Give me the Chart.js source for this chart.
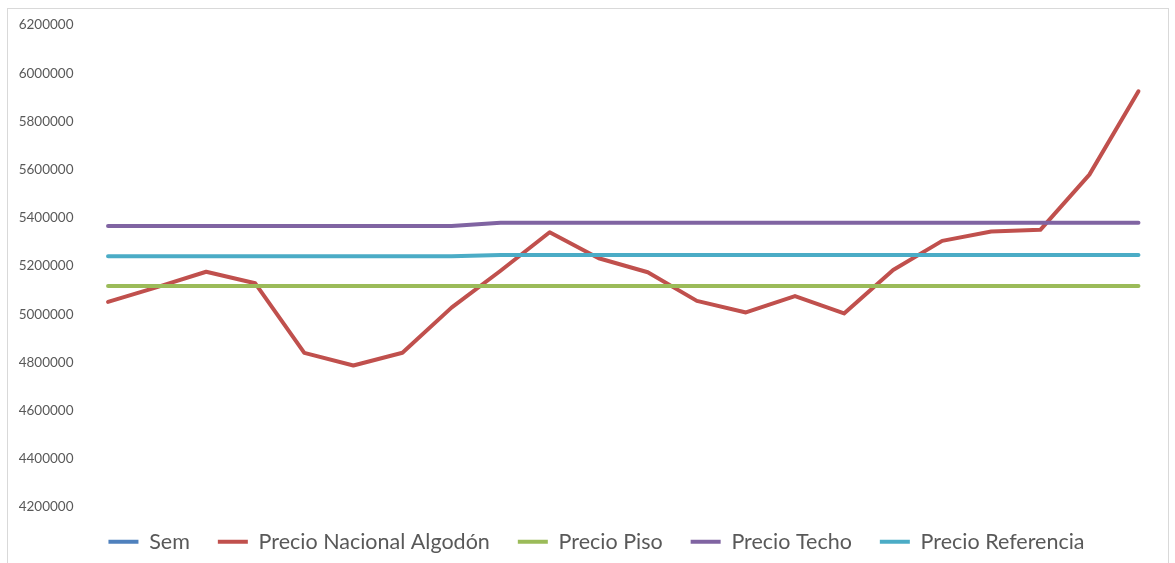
<!DOCTYPE html>
<html>
<head>
<meta charset="utf-8">
<script src="https://cdn.jsdelivr.net/npm/chart.js@4.4.1/dist/chart.umd.min.js"></script>
<style>
  html, body { margin: 0; padding: 0; background: #fff; overflow: hidden; }
  #frame { position: absolute; left: 7px; top: 8px; width: 1160px; height: 570px; border: 1px solid #d9d9d9; }
  #wrap { position: absolute; left: 8px; top: 9px; width: 1159px; height: 554px; }
</style>
</head>
<body>
<div id="frame"></div>
<div id="wrap"><canvas id="chart"></canvas></div>
<script>
// Weeks (category axis, labels hidden in the original)
const semanas = ['1', '2', '3', '4', '5', '6', '7', '8', '9', '10', '11',
                 '12', '13', '14', '15', '16', '17', '18', '19', '20', '21', '22'];

// Series
const sem = [];
const precioNacional = [5051000, 5112000, 5176000, 5128000, 4839000, 4787000, 4840000, 5027000,
                        5180000, 5340000, 5232000, 5174000, 5055000, 5007000, 5075000, 5003000,
                        5183000, 5304000, 5343000, 5350000, 5579000, 5925000];
const precioPiso = [5117000, 5117000, 5117000, 5117000, 5117000, 5117000, 5117000, 5117000,
                    5117000, 5117000, 5117000, 5117000, 5117000, 5117000, 5117000, 5117000,
                    5117000, 5117000, 5117000, 5117000, 5117000, 5117000];
const precioTecho = [5366000, 5366000, 5366000, 5366000, 5366000, 5366000, 5366000, 5366000,
                     5379000, 5379000, 5379000, 5379000, 5379000, 5379000, 5379000, 5379000,
                     5379000, 5379000, 5379000, 5379000, 5379000, 5379000];
const precioReferencia = [5240000, 5240000, 5240000, 5240000, 5240000, 5240000, 5240000, 5240000,
                          5245000, 5245000, 5245000, 5245000, 5245000, 5245000, 5245000, 5245000,
                          5245000, 5245000, 5245000, 5245000, 5245000, 5245000];

// Y axis tick labels
const yTicks = [4200000, 4400000, 4600000, 4800000, 5000000, 5200000,
                5400000, 5600000, 5800000, 6000000, 6200000];

const LEGEND_PAD = 28;

function serie(label, data, color, order) {
    return {
        label: label,
        data: data,
        borderColor: color,
        backgroundColor: color,
        borderWidth: 4,
        pointRadius: 0,
        tension: 0,
        borderCapStyle: 'round',
        borderJoinStyle: 'round',
        order: order
    };
}

// Excel draws the legend over the bottom of the plot area: lift it a bit
// and nudge it right so it is centred like the original
const legendLift = {
    id: 'legendLift',
    afterLayout(chart) {
        const lg = chart.legend;
        lg.top -= LEGEND_PAD;
        lg.left += 22;
    }
};

const ctx = document.getElementById('chart').getContext('2d');
new Chart(ctx, {
    type: 'line',
    data: {
        labels: semanas,
        datasets: [
            serie('Sem', sem, '#4F81BD', 5),
            serie('Precio Nacional Algodón', precioNacional, '#C0504D', 4),
            serie('Precio Piso', precioPiso, '#9BBB59', 3),
            serie('Precio Techo', precioTecho, '#8064A2', 2),
            serie('Precio Referencia', precioReferencia, '#4BACC6', 1)
        ]
    },
    plugins: [legendLift],
    options: {
        responsive: true,
        maintainAspectRatio: false,
        animation: false,
        layout: { padding: { top: 16, right: 4, bottom: 0, left: 0 } },
        plugins: {
            tooltip: { enabled: false },
            legend: {
                position: 'bottom',
                maxHeight: 32,
                labels: {
                    usePointStyle: true,
                    pointStyle: 'line',
                    pointStyleWidth: 30,
                    boxHeight: 4,
                    padding: LEGEND_PAD,
                    color: '#595959',
                    font: { family: 'Lato', size: 21.5 },
                    sort: (a, b) => a.datasetIndex - b.datasetIndex
                }
            }
        },
        scales: {
            x: {
                display: false,
                offset: true
            },
            y: {
                min: 4100000,
                max: 6200000,
                grid: { display: false },
                border: { display: false },
                afterBuildTicks: scale => { scale.ticks = yTicks.map(v => ({ value: v })); },
                afterFit: scale => { scale.width = 75.5; },
                ticks: {
                    padding: 2,
                    color: '#595959',
                    font: { family: 'Lato', size: 13.5 },
                    callback: value => String(value)
                }
            }
        }
    }
});
</script>
</body>
</html>
